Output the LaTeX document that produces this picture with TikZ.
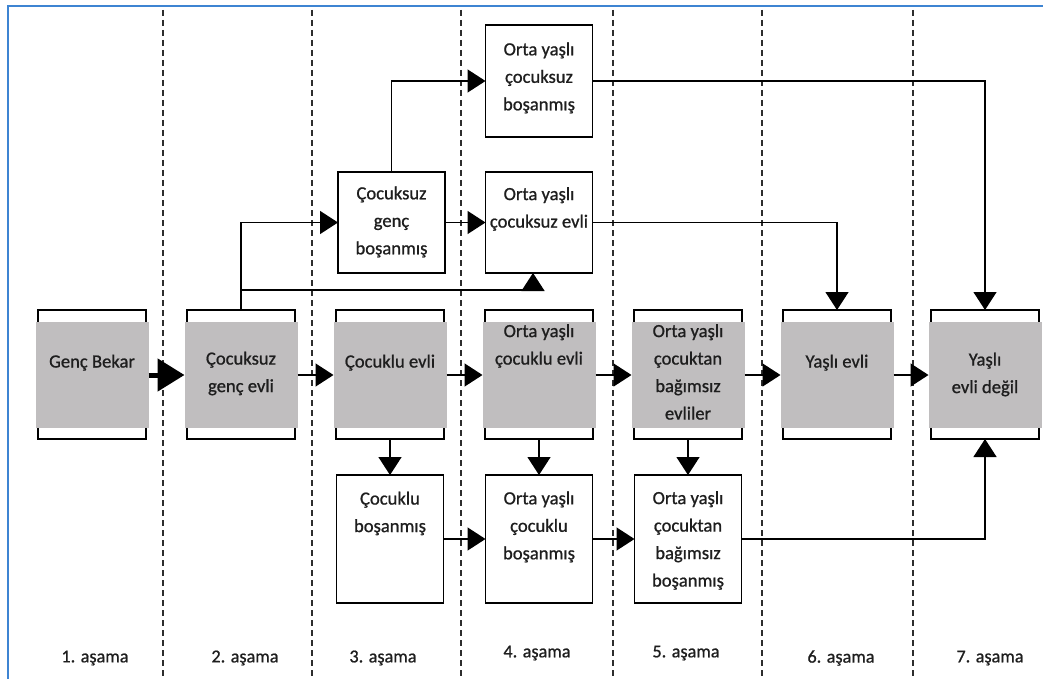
\documentclass[tikz,border=0pt]{standalone}
\usepackage{fontspec}
\setmainfont{Carlito}[FakeBold=0]
\newfontfamily\diagfont{Carlito}[FakeBold=0.9]
\usetikzlibrary{arrows.meta}
\definecolor{boxgray}{RGB}{192,190,191}
\definecolor{frameblue}{RGB}{62,132,210}
\definecolor{txt}{RGB}{30,30,30}
\definecolor{dashc}{RGB}{45,45,45}
\begin{document}
\begin{tikzpicture}[x=1pt,y=-1pt,
  txtstyle/.style={font=\diagfont\fontsize{18.6}{27.5}\selectfont, text=txt, align=center, inner sep=0pt,
    execute at begin node=\strut, execute at end node=\strut},
  stagelbl/.style={font=\diagfont\fontsize{18.2}{22}\selectfont, text=txt, inner sep=0pt},
  bracketbox/.style={draw=black, line width=1.4pt, fill=white, minimum width=108pt, minimum height=129pt, inner sep=0pt, outer sep=0pt},
  grayfill/.style={fill=boxgray, minimum width=113pt, minimum height=106pt, inner sep=0pt, outer sep=0pt},
  whitebox/.style={draw=black, line width=1.4pt, fill=white, minimum width=107pt, inner sep=0pt, outer sep=0pt},
  arr/.style={-{Triangle[length=18pt,width=23pt]}, line width=1.4pt, draw=black},
  thickarr/.style={-{Triangle[length=27pt,width=32pt]}, line width=5pt, draw=black},
  stageline/.style={draw=dashc, line width=1.3pt, dash pattern=on 6pt off 4pt}
]
\useasboundingbox (0,0) rectangle (1043,679);
\fill[white] (0,0) rectangle (1043,679);

% stage separators
\foreach \xx in {163,312,461,613,762,913}{
  \draw[stageline] (\xx,10) -- (\xx,679);
}

% frame
\draw[frameblue, line width=2pt] (8,679) -- (8,6) -- (1043,6);

% main row
\foreach \i/\xx in {1/92,2/241,3/390,4/539,5/688,6/837,7/985}{
  \node[bracketbox] (b\i) at (\xx,374.5) {};
  \node[grayfill] (g\i) at (\xx,375) {};
}
\node[txtstyle] (t1) at (92,362) {Genç Bekar};
\node[txtstyle] (t2) at (241,376) {Çocuksuz\\genç evli};
\node[txtstyle] (t3) at (390,362) {Çocuklu evli};
\node[txtstyle] (t4) at (539,348.5) {Orta yaşlı\\çocuklu evli};
\node[txtstyle] (t5) at (688,376) {Orta yaşlı\\çocuktan\\bağımsız\\evliler};
\node[txtstyle] (t6) at (837,362) {Yaşlı evli};
\node[txtstyle] (t7) at (985,377) {Yaşlı\\evli değil};

% upper boxes
\node[whitebox, minimum height=101pt] (cgb) at (391.5,222.5) {};
\node[txtstyle] (tcgb) at (391.5,224.5) {Çocuksuz\\genç\\boşanmış};
\node[whitebox, minimum height=112pt] (ocb) at (539,81) {};
\node[txtstyle] (tocb) at (539,80.5) {Orta yaşlı\\çocuksuz\\boşanmış};
\node[whitebox, minimum height=101pt] (oyce) at (539,222.5) {};
\node[txtstyle] (toyce) at (539,211.5) {Orta yaşlı\\çocuksuz evli};

% lower boxes
\node[whitebox, minimum height=128pt] (cb) at (390,539) {};
\node[txtstyle] (tcb) at (390,516) {Çocuklu\\boşanmış};
\node[whitebox, minimum height=128pt] (ocyb) at (539,539) {};
\node[txtstyle] (tocyb) at (539,529.5) {Orta yaşlı\\çocuklu\\boşanmış};
\node[whitebox, minimum height=128pt] (bb) at (688,539) {};
\node[txtstyle] (tbb) at (688,543) {Orta yaşlı\\çocuktan\\bağımsız\\boşanmış};

% stage labels
\node[stagelbl] (s1) at (95,658) {1. aşama};
\node[stagelbl] (s2) at (245,658) {2. aşama};
\node[stagelbl] (s3) at (383,658) {3. aşama};
\node[stagelbl] (s4) at (537,653) {4. aşama};
\node[stagelbl] (s5) at (686,653) {5. aşama};
\node[stagelbl] (s6) at (841,658) {6. aşama};
\node[stagelbl] (s7) at (990,658) {7. aşama};

% main row connectors
\draw[thickarr] (g1.east) -- (g2.west);
\draw[arr] (g2.east) -- (g3.west);
\draw[arr] (g3.east) -- (g4.west);
\draw[arr] (g4.east) -- (g5.west);
\draw[arr] (g5.east) -- (g6.west);
\draw[arr] (g6.east) -- (g7.west);

% upper connectors
\coordinate (j1) at (241,290);
\draw[arr] (b2.north) |- (cgb.west);
\draw[arr] (b2.north) -- (j1) -| ([xshift=-6pt]oyce.south);
\draw[arr] (cgb.north) |- (ocb.west);
\draw[arr] (cgb.east) -- (oyce.west);
\draw[arr] (ocb.east) -| (b7.north);
\draw[arr] (oyce.east) -| (b6.north);

% lower connectors
\draw[arr] (b3.south) -- (cb.north);
\draw[arr] (b4.south) -- (ocyb.north);
\draw[arr] (b5.south) -- (bb.north);
\draw[arr] (cb.east) -- (ocyb.west);
\draw[arr] (ocyb.east) -- (bb.west);
\draw[arr] (bb.east) -| (b7.south);
\end{tikzpicture}
\end{document}
